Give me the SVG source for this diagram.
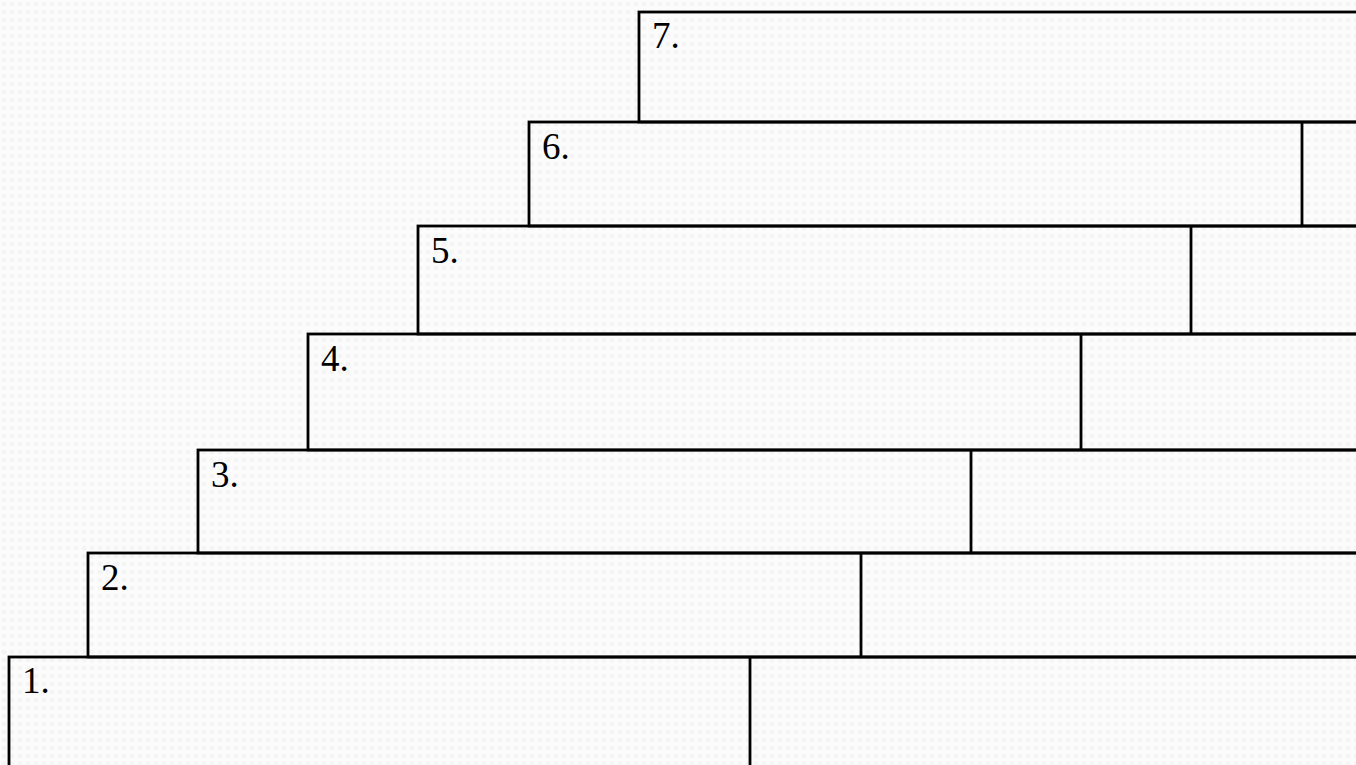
<svg xmlns="http://www.w3.org/2000/svg" width="1356" height="765" viewBox="0 0 1356 765">
<style>
.box{fill:none;stroke:#000;stroke-width:2.8}
.div{stroke:#000;stroke-width:2.8}
.lbl{font-family:"Liberation Serif","Times New Roman",serif;font-size:37px;fill:#000}
</style>
<defs>
<pattern id="bg" width="8" height="8" patternUnits="userSpaceOnUse">
<rect width="8" height="8" fill="#fcfcfc"/>
<circle cx="4" cy="4" r="2.5" fill="#f5f5f5"/>
</pattern>
</defs>
<rect width="1356" height="765" fill="url(#bg)"/>
<g id="row7"><rect class="box" x="639" y="12" width="730" height="110"/><text class="lbl" x="652" y="48">7.</text></g>
<g id="row6"><rect class="box" x="529" y="122" width="840" height="104"/><line class="div" x1="1302" y1="122" x2="1302" y2="226"/><text class="lbl" x="542" y="159">6.</text></g>
<g id="row5"><rect class="box" x="418" y="226" width="951" height="108"/><line class="div" x1="1191" y1="226" x2="1191" y2="334"/><text class="lbl" x="431" y="263">5.</text></g>
<g id="row4"><rect class="box" x="308" y="334" width="1061" height="116"/><line class="div" x1="1081" y1="334" x2="1081" y2="450"/><text class="lbl" x="321" y="371">4.</text></g>
<g id="row3"><rect class="box" x="198" y="450" width="1171" height="103"/><line class="div" x1="971" y1="450" x2="971" y2="553"/><text class="lbl" x="211" y="487">3.</text></g>
<g id="row2"><rect class="box" x="88" y="553" width="1281" height="104"/><line class="div" x1="861" y1="553" x2="861" y2="657"/><text class="lbl" x="101" y="590">2.</text></g>
<g id="row1"><rect class="box" x="9" y="657" width="1360" height="130"/><line class="div" x1="750" y1="657" x2="750" y2="787"/><text class="lbl" x="22" y="693">1.</text></g>
<g id="connectors"/>
</svg>
